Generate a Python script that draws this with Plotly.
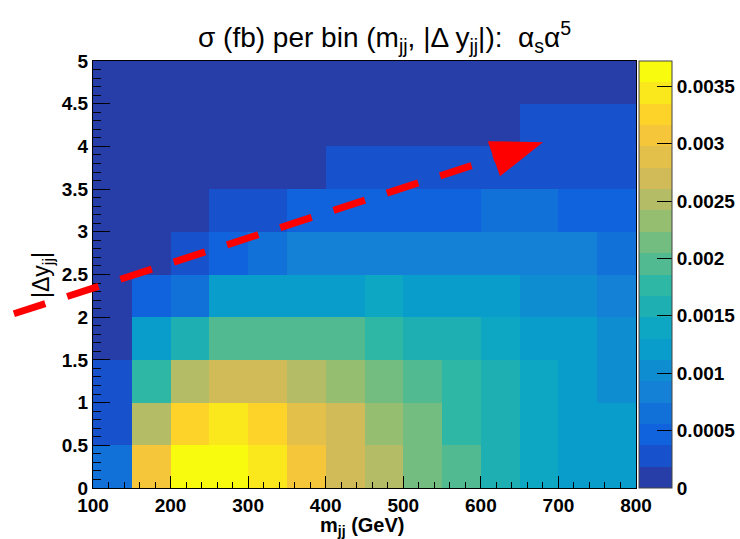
import plotly.graph_objects as go

# Bin edges
mjj_edges = [100, 150, 200, 250, 300, 350, 400, 450, 500, 550, 600, 650, 700, 750, 800]
dy_edges = [0, 0.5, 1.0, 1.5, 2.0, 2.5, 3.0, 3.5, 4.0, 4.5, 5.0]

# Cross section per bin (fb); one row per |Delta y_jj| bin, from 0 upwards
sigma_dy_0_05 = [0.00066, 0.00305, 0.00372, 0.00365, 0.00345, 0.00306, 0.00271, 0.00250, 0.00213, 0.00194, 0.00158, 0.00139, 0.00122, 0.00120]
sigma_dy_05_1 = [0.00027, 0.00252, 0.00326, 0.00343, 0.00322, 0.00287, 0.00268, 0.00232, 0.00212, 0.00176, 0.00157, 0.00138, 0.00121, 0.00119]
sigma_dy_1_15 = [0.00029, 0.00178, 0.00249, 0.00272, 0.00269, 0.00248, 0.00231, 0.00213, 0.00196, 0.00175, 0.00156, 0.00137, 0.00120, 0.00103]
sigma_dy_15_2 = [0.00012, 0.00122, 0.00159, 0.00197, 0.00198, 0.00195, 0.00193, 0.00177, 0.00160, 0.00157, 0.00139, 0.00121, 0.00120, 0.00101]
sigma_dy_2_25 = [0.00010, 0.00046, 0.00066, 0.00123, 0.00124, 0.00122, 0.00125, 0.00136, 0.00121, 0.00119, 0.00118, 0.00102, 0.00100, 0.00083]
sigma_dy_25_3 = [0.00008, 0.00015, 0.00029, 0.00047, 0.00065, 0.00084, 0.00085, 0.00086, 0.00084, 0.00083, 0.00082, 0.00082, 0.00080, 0.00064]
sigma_dy_3_35 = [0.00006, 0.00010, 0.00016, 0.00028, 0.00030, 0.00046, 0.00048, 0.00047, 0.00046, 0.00049, 0.00060, 0.00060, 0.00047, 0.00045]
sigma_dy_35_4 = [0.00004, 0.00006, 0.00009, 0.00012, 0.00014, 0.00017, 0.00026, 0.00027, 0.00028, 0.00029, 0.00030, 0.00031, 0.00030, 0.00029]
sigma_dy_4_45 = [0.00002, 0.00003, 0.00005, 0.00006, 0.00008, 0.00009, 0.00011, 0.00012, 0.00014, 0.00015, 0.00016, 0.00022, 0.00023, 0.00022]
sigma_dy_45_5 = [0.00001, 0.00002, 0.00002, 0.00003, 0.00004, 0.00005, 0.00006, 0.00007, 0.00008, 0.00009, 0.00010, 0.00011, 0.00012, 0.00012]

sigma = [sigma_dy_0_05, sigma_dy_05_1, sigma_dy_1_15, sigma_dy_15_2, sigma_dy_2_25,
         sigma_dy_25_3, sigma_dy_3_35, sigma_dy_35_4, sigma_dy_4_45, sigma_dy_45_5]

z_min, z_max = 0.0, 0.00372
n_contours = 20

cbar_tickvals = [0, 0.0005, 0.001, 0.0015, 0.002, 0.0025, 0.003, 0.0035]
cbar_ticktext = ["0", "0.0005", "0.001", "0.0015", "0.002", "0.0025", "0.003", "0.0035"]
x_tickvals = [100, 200, 300, 400, 500, 600, 700, 800]

# "Bird" palette stops
stops = [0.0, 0.125, 0.25, 0.375, 0.5, 0.625, 0.75, 0.875, 1.0]
red = [0.2082, 0.0592, 0.0780, 0.0232, 0.1802, 0.5301, 0.8186, 0.9956, 0.9764]
green = [0.1664, 0.3599, 0.5041, 0.6419, 0.7178, 0.7492, 0.7328, 0.7862, 0.9832]
blue = [0.5293, 0.8684, 0.8385, 0.7914, 0.6425, 0.4662, 0.3499, 0.1968, 0.0539]


def bird(t):
    for k in range(len(stops) - 1):
        if t <= stops[k + 1] or k == len(stops) - 2:
            f = (t - stops[k]) / (stops[k + 1] - stops[k])
            r = red[k] + (red[k + 1] - red[k]) * f
            g = green[k] + (green[k + 1] - green[k]) * f
            b = blue[k] + (blue[k + 1] - blue[k]) * f
            return "rgb(%d,%d,%d)" % (round(r * 255), round(g * 255), round(b * 255))


# Stepped colour scale: one flat colour per contour band
colorscale = []
for i in range(n_contours):
    t = int((i + 0.99) * 255 / n_contours) / 254.0
    c = bird(min(t, 1.0))
    colorscale.append([i / n_contours, c])
    colorscale.append([(i + 1) / n_contours, c])

FONT = "Liberation Sans, Arial, Helvetica, sans-serif"
W, H = 740, 539
L, R, T, B = 93, 104, 61, 51
PW, PH = W - L - R, H - T - B

fig = go.Figure()
fig.add_trace(go.Heatmap(
    x=mjj_edges, y=dy_edges, z=sigma,
    zmin=z_min, zmax=z_max, colorscale=colorscale,
    xgap=0, ygap=0, hoverinfo="skip",
    colorbar=dict(
        x=1 + 3 / PW, xanchor="left", xref="paper",
        y=0.5, yanchor="middle", len=1, lenmode="fraction",
        thickness=33, xpad=0, ypad=0,
        outlinewidth=1, outlinecolor="#444",
        tickvals=cbar_tickvals, ticktext=cbar_ticktext,
        ticks="inside", ticklen=15, tickwidth=1, tickcolor="black",
        tickfont=dict(family=FONT, size=19, color="black", weight="bold"),
    ),
))

# Dashed red arrow (data units converted to the plot's paper frame)
arrow_start = (-2.0, 2.04)
arrow_base = (617.0, 3.86)
head_pts = [(609.0, 4.06), (680.0, 4.05), (624.7, 3.65)]


def to_paper(p):
    return ((p[0] - 100) / 700.0, p[1] / 5.0)


s0, s1 = to_paper(arrow_start), to_paper(arrow_base)
fig.add_shape(type="line", xref="paper", yref="paper",
              x0=s0[0], y0=s0[1], x1=s1[0], y1=s1[1],
              line=dict(color="red", width=7, dash="33px,23px"), layer="above")
hp = [to_paper(p) for p in head_pts]
path = "M %f %f L %f %f L %f %f Z" % (hp[0][0], hp[0][1], hp[1][0], hp[1][1], hp[2][0], hp[2][1])
fig.add_shape(type="path", xref="paper", yref="paper", path=path,
              fillcolor="red", line=dict(width=0), layer="above")

axis_common = dict(
    showgrid=False, zeroline=False, showline=True, mirror=True,
    linecolor="black", linewidth=1,
    ticks="inside", tickcolor="black", tickwidth=1,
    tickfont=dict(family=FONT, size=19, color="black", weight="bold"),
)

fig.update_xaxes(range=[100, 800], tickvals=x_tickvals, ticklen=12,
                 minor=dict(ticks="inside", ticklen=6, dtick=20, tickcolor="black", tickwidth=1),
                 **axis_common)
fig.update_yaxes(range=[0, 5], dtick=0.5, tick0=0, ticklen=17,
                 minor=dict(ticks="inside", ticklen=8, dtick=0.1, tickcolor="black", tickwidth=1),
                 **axis_common)

fig.add_annotation(text="σ (fb) per bin (m<sub>jj</sub>, |Δ y<sub>jj</sub>|):  α<sub>s</sub>α<sup>5</sup>",
                   xref="paper", yref="paper", x=(384 - L) / PW, y=1 + (T - 37) / PH,
                   xanchor="center", yanchor="middle", showarrow=False,
                   font=dict(family=FONT, size=28, color="black"))
fig.add_annotation(text="m<sub>jj</sub> (GeV)",
                   xref="paper", yref="paper", x=(362 - L) / PW, y=-(526 - (H - B)) / PH,
                   xanchor="center", yanchor="middle", showarrow=False,
                   font=dict(family=FONT, size=20, color="black", weight="bold"))
fig.add_annotation(text="|Δy<sub>jj</sub>|",
                   xref="paper", yref="paper", x=-(L - 42) / PW, y=(H - B - 275) / PH,
                   xanchor="center", yanchor="middle", showarrow=False, textangle=-90,
                   font=dict(family=FONT, size=23, color="black"))

fig.update_layout(
    width=W, height=H,
    margin=dict(l=L, r=R, t=T, b=B, pad=0, autoexpand=False),
    paper_bgcolor="white", plot_bgcolor="white",
    showlegend=False,
)

fig.write_html("out.html")
